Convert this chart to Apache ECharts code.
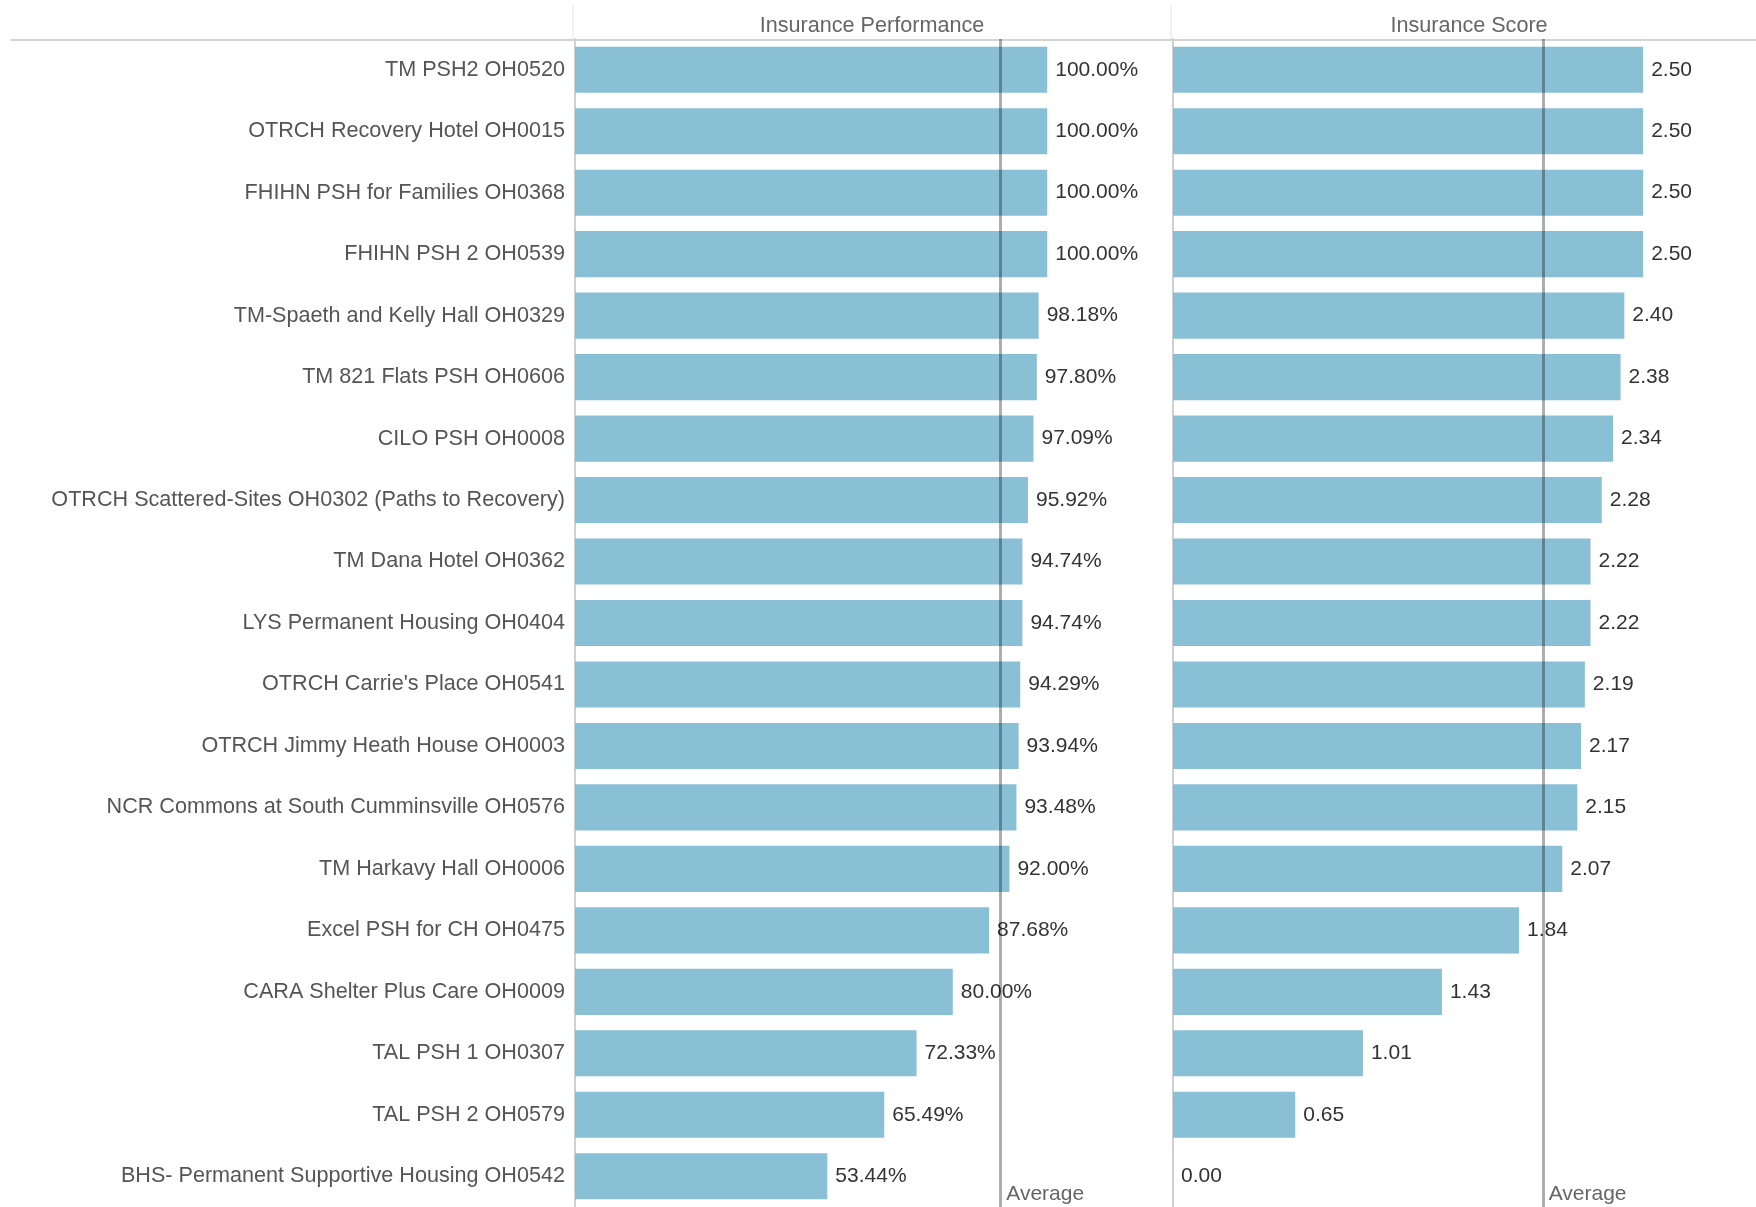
<!DOCTYPE html>
<html>
<head>
<meta charset="utf-8">
<title>Insurance</title>
<script src="https://cdn.jsdelivr.net/npm/echarts@6/dist/echarts.min.js"></script>
<style>
  html, body { margin: 0; padding: 0; background: #fff; }
  #main { width: 1756px; height: 1207px; }
</style>
</head>
<body>
<div id="main"></div>
<script>
  var programs = ['TM PSH2 OH0520', 'OTRCH Recovery Hotel OH0015', 'FHIHN PSH for Families OH0368', 'FHIHN PSH 2 OH0539',
    'TM-Spaeth and Kelly Hall OH0329', 'TM 821 Flats PSH OH0606', 'CILO PSH OH0008',
    'OTRCH Scattered-Sites OH0302 (Paths to Recovery)', 'TM Dana Hotel OH0362', 'LYS Permanent Housing OH0404',
    "OTRCH Carrie's Place OH0541", 'OTRCH Jimmy Heath House OH0003', 'NCR Commons at South Cumminsville OH0576',
    'TM Harkavy Hall OH0006', 'Excel PSH for CH OH0475', 'CARA Shelter Plus Care OH0009', 'TAL PSH 1 OH0307',
    'TAL PSH 2 OH0579', 'BHS- Permanent Supportive Housing OH0542']
  var performance = [100, 100, 100, 100, 98.18, 97.80, 97.09, 95.92, 94.74, 94.74, 94.29, 93.94, 93.48, 92.00, 87.68, 80.00, 72.33, 65.49, 53.44]
  var score = [2.50, 2.50, 2.50, 2.50, 2.40, 2.38, 2.34, 2.28, 2.22, 2.22, 2.19, 2.17, 2.15, 2.07, 1.84, 1.43, 1.01, 0.65, 0.00]
  var panelTitles = ['Insurance Performance', 'Insurance Score']

  var font = "'Liberation Sans', Arial, sans-serif"
  var barColor = '#89c0d5'

  function mean(arr) {
    var s = 0
    for (var i = 0; i < arr.length; i++) s += arr[i]
    return s / arr.length
  }
  var avgPerf = mean(performance)
  var avgScore = mean(score)

  function avgLine(v) {
    return {
      silent: true,
      symbol: 'none',
      label: {show: false},
      lineStyle: {color: 'rgba(0,0,0,0.32)', width: 3, type: 'solid'},
      data: [{xAxis: v}]
    }
  }

  function catAxis(idx, showLabels) {
    return {
      type: 'category',
      gridIndex: idx,
      data: programs,
      inverse: true,
      offset: 2,
      axisTick: {show: false},
      axisLine: {show: true, lineStyle: {color: '#d0d0d0', width: 2}},
      axisLabel: {show: showLabels, margin: 8, color: '#555', fontSize: 21.6, fontFamily: font}
    }
  }

  var chart = echarts.init(document.getElementById('main'))
  chart.setOption({
    animation: false,
    title: [
      {text: panelTitles[0], left: 867, top: 10, textAlign: 'center',
        textStyle: {color: '#666', fontSize: 21.6, fontWeight: 'normal', fontFamily: font}},
      {text: panelTitles[1], left: 1464, top: 10, textAlign: 'center',
        textStyle: {color: '#666', fontSize: 21.6, fontWeight: 'normal', fontFamily: font}}
    ],
    grid: [
      {left: 575, top: 39, width: 595, height: 1171},
      {left: 1173, top: 39, width: 583, height: 1171}
    ],
    xAxis: [
      {type: 'value', gridIndex: 0, min: 0, max: 126, show: false},
      {type: 'value', gridIndex: 1, min: 0, max: 3.1, show: false}
    ],
    yAxis: [catAxis(0, true), catAxis(1, false)],
    series: [
      {
        name: panelTitles[0],
        type: 'bar',
        xAxisIndex: 0,
        yAxisIndex: 0,
        data: performance,
        barCategoryGap: '25%',
        itemStyle: {color: barColor},
        label: {
          show: true, position: 'right', distance: 8, color: '#333', fontSize: 21, fontFamily: font,
          formatter: function (p) { return p.value.toFixed(2) + '%' }
        },
        markLine: avgLine(avgPerf)
      },
      {
        name: panelTitles[1],
        type: 'bar',
        xAxisIndex: 1,
        yAxisIndex: 1,
        data: score,
        barCategoryGap: '25%',
        itemStyle: {color: barColor},
        label: {
          show: true, position: 'right', distance: 8, color: '#333', fontSize: 21, fontFamily: font,
          formatter: function (p) { return p.value.toFixed(2) }
        },
        markLine: avgLine(avgScore)
      }
    ]
  })

  // header rule, header dividers, and the "Average" captions next to the mean lines
  var x1 = chart.convertToPixel({xAxisIndex: 0}, avgPerf)
  var x2 = chart.convertToPixel({xAxisIndex: 1}, avgScore)
  chart.setOption({
    graphic: [
      {type: 'line', shape: {x1: 11, y1: 40, x2: 1756, y2: 40}, style: {stroke: '#d4d4d4', lineWidth: 2}},
      {type: 'line', shape: {x1: 573, y1: 5, x2: 573, y2: 39}, style: {stroke: '#e4e4e4', lineWidth: 1}},
      {type: 'line', shape: {x1: 1171, y1: 5, x2: 1171, y2: 39}, style: {stroke: '#e4e4e4', lineWidth: 1}},
      {type: 'text', x: x1 + 6, y: 1194, style: {text: 'Average', fill: '#666', fontSize: 21, fontFamily: font, verticalAlign: 'middle'}},
      {type: 'text', x: x2 + 6, y: 1194, style: {text: 'Average', fill: '#666', fontSize: 21, fontFamily: font, verticalAlign: 'middle'}}
    ]
  })
</script>
</body>
</html>
